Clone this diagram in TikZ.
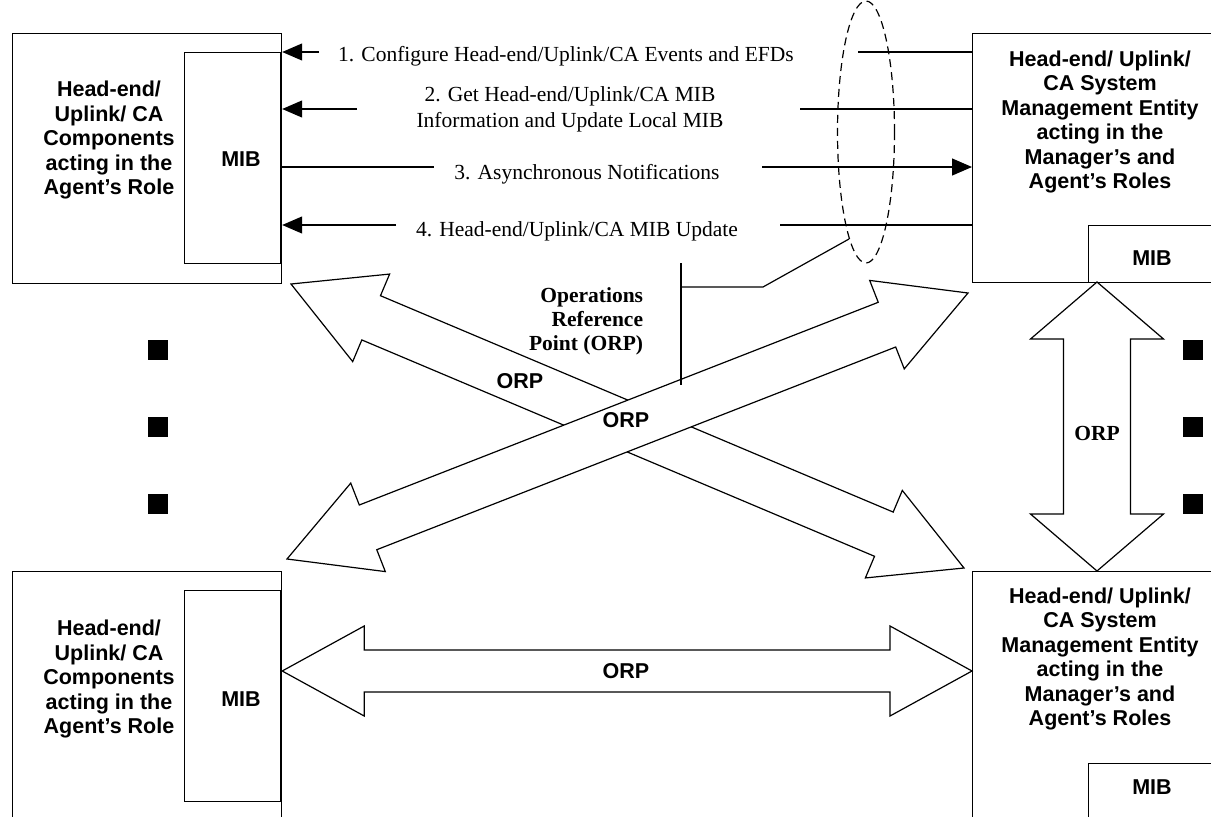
\documentclass[tikz,border=0pt]{standalone}
\usepackage{fontspec}
\setmainfont{Liberation Serif}
\setsansfont{Liberation Sans}
\usetikzlibrary{arrows.meta,calc,shapes.geometric}

\newcommand{\orparrow}[5]{%
  \path ($(#1)!#3!(#2)$) coordinate (hb1) ($(#2)!#3!(#1)$) coordinate (hb2);
  \draw[fat] (#1) -- ($(hb1)!#4!90:(#1)$) -- ($(hb1)!#5!90:(#1)$)
    -- ($(hb2)!#5!-90:(#2)$) -- ($(hb2)!#4!-90:(#2)$) -- (#2)
    -- ($(hb2)!#4!90:(#2)$) -- ($(hb2)!#5!90:(#2)$)
    -- ($(hb1)!#5!-90:(#1)$) -- ($(hb1)!#4!-90:(#1)$) -- cycle;
}

\begin{document}
\begin{tikzpicture}[x=1pt,y=-1pt,line width=1.2pt,
  box/.style={draw, rectangle, inner sep=0pt},
  lbl/.style={font=\fontsize{21.5}{24.5}\selectfont\sffamily\bfseries, align=center},
  msg/.style={font=\fontsize{21.5}{26}\selectfont\rmfamily, align=center},
  orp/.style={font=\fontsize{21.5}{24}\selectfont\sffamily\bfseries},
  fat/.style={draw, fill=white, line join=miter},
  tip/.style={-{Triangle[length=20pt,width=17pt]}}]
  \useasboundingbox (0,0) rectangle (1211,817);
  \clip (0,0) rectangle (1211,817);

  \node[box, anchor=north west, minimum width=269pt, minimum height=250pt] (agA) at (12,33) {};
  \node[box, anchor=north east, minimum width=96pt, minimum height=211pt] (mibA) at (281,52) {};
  \node[lbl] (agAt) at (109,140) {Head-end/\\Uplink/ CA\\Components\\acting in the\\Agent’s Role};
  \node[lbl] (mibAt) at (241,159) {MIB};

  \node[box, anchor=north west, minimum width=260pt, minimum height=249pt] (meA) at (972,33) {};
  \node[box, anchor=north west, minimum width=150pt, minimum height=57pt] (mibC) at (1088,225) {};
  \node[lbl] (meAt) at (1100,122) {Head-end/ Uplink/\\CA System\\Management Entity\\acting in the\\Manager’s and\\Agent’s Roles};
  \node[lbl] (mibCt) at (1152,258) {MIB};

  \node[box, anchor=north west, minimum width=269pt, minimum height=270pt] (agB) at (12,571) {};
  \node[box, anchor=north east, minimum width=96pt, minimum height=211pt] (mibB) at (281,590) {};
  \node[lbl] (agBt) at (109,679) {Head-end/\\Uplink/ CA\\Components\\acting in the\\Agent’s Role};
  \node[lbl] (mibBt) at (241,699) {MIB};

  \node[box, anchor=north west, minimum width=260pt, minimum height=270pt] (meB) at (972,571) {};
  \node[box, anchor=north west, minimum width=150pt, minimum height=80pt] (mibD) at (1088,763) {};
  \node[lbl] (meBt) at (1100,659) {Head-end/ Uplink/\\CA System\\Management Entity\\acting in the\\Manager’s and\\Agent’s Roles};
  \node[lbl] (mibDt) at (1152,787) {MIB};

  \coordinate (c1a) at (319,52);
  \coordinate (c1b) at (858,52);
  \coordinate (c2a) at (357,109);
  \coordinate (c2b) at (800,109);
  \coordinate (c3a) at (434,167);
  \coordinate (c3b) at (762,167);
  \coordinate (c4a) at (396,225);
  \coordinate (c4b) at (780,225);
  \draw[tip] (c1a) -- (c1a -| agA.east);
  \draw (c1b) -- (c1b -| meA.west);
  \draw[tip] (c2a) -- (c2a -| agA.east);
  \draw (c2b) -- (c2b -| meA.west);
  \draw (c3a -| agA.east) -- (c3a);
  \draw[tip] (c3b) -- (c3b -| meA.west);
  \draw[tip] (c4a) -- (c4a -| agA.east);
  \draw (c4b) -- (c4b -| meA.west);
  \node[msg] (m1) at (566,56) {1. Configure Head-end/Uplink/CA Events and EFDs};
  \node[msg] (m2) at (570,109) {2. Get Head-end/Uplink/CA MIB\\Information and Update Local MIB};
  \node[msg] (m3) at (587,174) {3. Asynchronous Notifications};
  \node[msg] (m4) at (577,231) {4. Head-end/Uplink/CA MIB Update};

  \node[draw, ellipse, dash pattern=on 8pt off 5pt, minimum width=57pt, minimum height=262pt, inner sep=0pt] (orpE) at (866,132) {};

  \coordinate (xa1) at (291,284);
  \coordinate (xa2) at (964,568);
  \coordinate (xb1) at (287,559);
  \coordinate (xb2) at (968,293);
  \coordinate (va1) at (1097,282);
  \coordinate (va2) at (1097,571);
  \coordinate (ha1) at (agB.east |- 0,671);
  \coordinate (ha2) at (meB.west |- 0,671);
  \orparrow{xa1}{xa2}{87pt}{47.5pt}{24pt}
  \orparrow{xb1}{xb2}{87pt}{47.5pt}{24pt}
  \orparrow{va1}{va2}{57pt}{66.5pt}{33.5pt}
  \orparrow{ha1}{ha2}{82pt}{45pt}{21pt}
  \node[orp] (orp1) at (520,381) {ORP};
  \node[orp] (orp2) at (626,420) {ORP};
  \node[orp] (orp3) at (626,671) {ORP};
  \node[font=\fontsize{21.5}{24}\selectfont\rmfamily\bfseries] (orp4) at (1097,433) {ORP};

  \coordinate (ld1) at (763,287);
  \coordinate (ld2) at (681,287);
  \coordinate (ld3) at (681,263);
  \coordinate (ld4) at (681,385);
  \draw (orpE.261) -- (ld1) -- (ld2);
  \draw (ld3) -- (ld4);
  \node[font=\fontsize{21.5}{24}\selectfont\rmfamily\bfseries, align=right, anchor=east] (opt) at (647,321) {Operations\\Reference\\Point (ORP)};

  \foreach \y [count=\i] in {350,427,504}{
    \node[fill, minimum size=20pt, inner sep=0pt] (sqL\i) at (158,\y) {};
    \node[fill, minimum size=20pt, inner sep=0pt] (sqR\i) at (1193,\y) {};
  }
\end{tikzpicture}
\end{document}
